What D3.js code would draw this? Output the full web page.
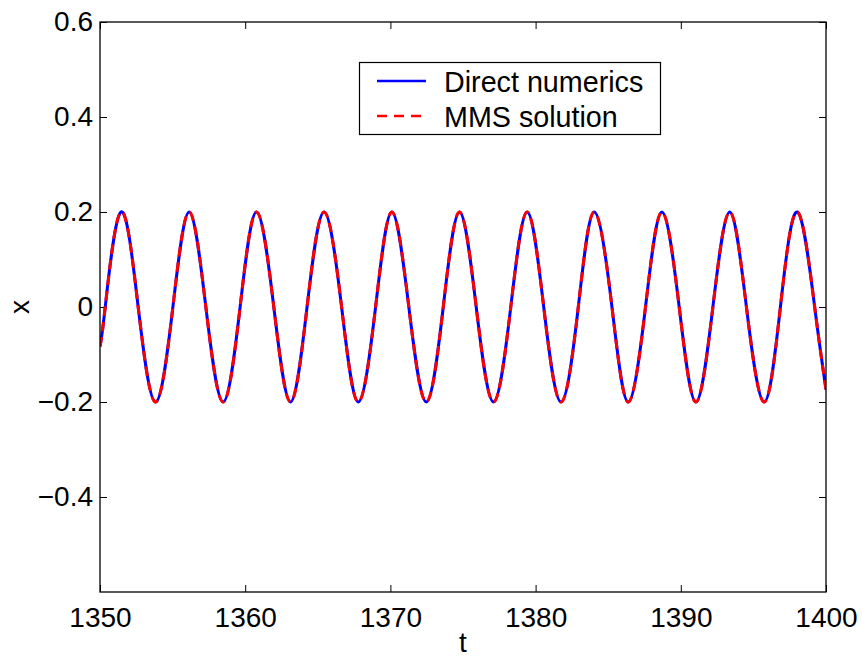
<!DOCTYPE html>
<html>
<head>
<meta charset="utf-8">
<script src="https://cdn.jsdelivr.net/npm/d3@7"></script>
<style>
  html, body { margin: 0; padding: 0; background: #fff; }
  svg { display: block; font-family: "Liberation Sans", Arial, Helvetica, sans-serif; }
</style>
</head>
<body>
<svg id="chart" width="862" height="659"></svg>
<script>
// Time samples (extrema, zero crossings and window ends) of the oscillation
const tValues = [
  1350.00, 1350.36, 1351.44, 1352.63, 1353.83, 1355.02, 1356.14, 1357.29, 1358.48, 1359.65,
  1360.78, 1361.97, 1363.12, 1364.26, 1365.43, 1366.64, 1367.79, 1368.98, 1370.10, 1371.27,
  1372.47, 1373.64, 1374.76, 1375.91, 1377.10, 1378.29, 1379.42, 1380.56, 1381.75, 1382.94,
  1384.04, 1385.26, 1386.38, 1387.57, 1388.70, 1389.89, 1391.04, 1392.21, 1393.37, 1394.52,
  1395.74, 1396.86, 1398.03, 1399.22, 1400.00
];
// Direct numerical integration
const directX = [
  -0.083, 0, 0.2, 0, -0.2, 0, 0.2, 0, -0.2, 0,
  0.2, 0, -0.2, 0, 0.2, 0, -0.2, 0, 0.2, 0,
  -0.2, 0, 0.2, 0, -0.2, 0, 0.2, 0, -0.2, 0,
  0.2, 0, -0.2, 0, 0.2, 0, -0.2, 0, 0.2, 0,
  -0.2, 0, 0.2, 0, -0.174
];
// Method of multiple scales approximation
const mmsX = [
  -0.083, 0, 0.2, 0, -0.2, 0, 0.2, 0, -0.2, 0,
  0.2, 0, -0.2, 0, 0.2, 0, -0.2, 0, 0.2, 0,
  -0.2, 0, 0.2, 0, -0.2, 0, 0.2, 0, -0.2, 0,
  0.2, 0, -0.2, 0, 0.2, 0, -0.2, 0, 0.2, 0,
  -0.2, 0, 0.2, 0, -0.174
];
const xTicks = [1350, 1360, 1370, 1380, 1390, 1400];
const yTicks = [0.6, 0.4, 0.2, 0, -0.2, -0.4];
const yTickLabels = ["0.6", "0.4", "0.2", "0", "\u22120.2", "\u22120.4"];
const seriesNames = ["Direct numerics", "MMS solution"];

const svg = d3.select("#chart");
const plot = { left: 100, right: 826, top: 22, bottom: 592 };
const fontSize = 28;

const x = d3.scaleLinear().domain([1350, 1400]).range([plot.left, plot.right]);
const y = d3.scaleLinear().domain([-0.6, 0.6]).range([plot.bottom, plot.top]);

svg.append("defs").append("clipPath").attr("id", "plotClip")
  .append("rect")
  .attr("x", plot.left).attr("y", plot.top)
  .attr("width", plot.right - plot.left).attr("height", plot.bottom - plot.top);

// Axes with inward ticks on all four sides
const tickLen = 7;
const axisStyle = g => {
  g.select(".domain").remove();
  g.selectAll(".tick line").attr("stroke", "#000").attr("stroke-width", 1);
  g.selectAll(".tick text").attr("fill", "#000").style("font-size", fontSize + "px");
};

svg.append("g")
  .attr("transform", `translate(0,${plot.bottom})`)
  .call(d3.axisBottom(x).tickValues(xTicks).tickFormat(d3.format("d"))
    .tickSizeInner(-tickLen).tickSizeOuter(0).tickPadding(15))
  .call(axisStyle)
  .call(g => g.selectAll(".tick text").attr("dy", "0.71em"));

svg.append("g")
  .attr("transform", `translate(0,${plot.top})`)
  .call(d3.axisTop(x).tickValues(xTicks).tickFormat("")
    .tickSizeInner(-tickLen).tickSizeOuter(0))
  .call(axisStyle);

svg.append("g")
  .attr("transform", `translate(${plot.left},0)`)
  .call(d3.axisLeft(y).tickValues(yTicks).tickFormat((d, i) => yTickLabels[i])
    .tickSizeInner(-tickLen).tickSizeOuter(0).tickPadding(7))
  .call(axisStyle);

svg.append("g")
  .attr("transform", `translate(${plot.right},0)`)
  .call(d3.axisRight(y).tickValues(yTicks).tickFormat("")
    .tickSizeInner(-tickLen).tickSizeOuter(0))
  .call(axisStyle);

// Data lines
const pointsOf = vals => tValues.map((t, i) => [t, vals[i]]);
const line = d3.line()
  .x(d => x(d[0]))
  .y(d => y(d[1]))
  .curve(d3.curveNatural);

const lines = svg.append("g").attr("clip-path", "url(#plotClip)");
lines.append("path")
  .datum(pointsOf(directX))
  .attr("d", line)
  .attr("fill", "none")
  .attr("stroke", "#0000ff")
  .attr("stroke-width", 3);
lines.append("path")
  .datum(pointsOf(mmsX))
  .attr("d", line)
  .attr("fill", "none")
  .attr("stroke", "#ff0000")
  .attr("stroke-width", 3)
  .attr("stroke-dasharray", "9.5,6");

// Plot box
svg.append("rect")
  .attr("x", plot.left).attr("y", plot.top)
  .attr("width", plot.right - plot.left).attr("height", plot.bottom - plot.top)
  .attr("fill", "none").attr("stroke", "#000").attr("stroke-width", 1.3);

// Axis labels
svg.append("text")
  .attr("x", x(1375)).attr("y", 652)
  .attr("text-anchor", "middle")
  .style("font-size", fontSize + "px")
  .text("t");
svg.append("text")
  .attr("transform", `translate(29,${y(0)}) rotate(-90)`)
  .attr("text-anchor", "middle")
  .style("font-size", fontSize + "px")
  .text("x");

// Legend
const legend = svg.append("g");
legend.append("rect")
  .attr("x", 359.5).attr("y", 62.5).attr("width", 301).attr("height", 72)
  .attr("fill", "#fff").attr("stroke", "#000").attr("stroke-width", 1.2);
const legendRows = [
  { name: seriesNames[0], color: "#0000ff", dash: null, cy: 81 },
  { name: seriesNames[1], color: "#ff0000", dash: "10,7", cy: 116 }
];
legendRows.forEach(r => {
  legend.append("line")
    .attr("x1", 377).attr("x2", 426).attr("y1", r.cy).attr("y2", r.cy)
    .attr("stroke", r.color).attr("stroke-width", 2.6)
    .attr("stroke-dasharray", r.dash);
  legend.append("text")
    .attr("x", 444).attr("y", r.cy + 10.5)
    .style("font-size", "28.7px")
    .text(r.name);
});
</script>
</body>
</html>
